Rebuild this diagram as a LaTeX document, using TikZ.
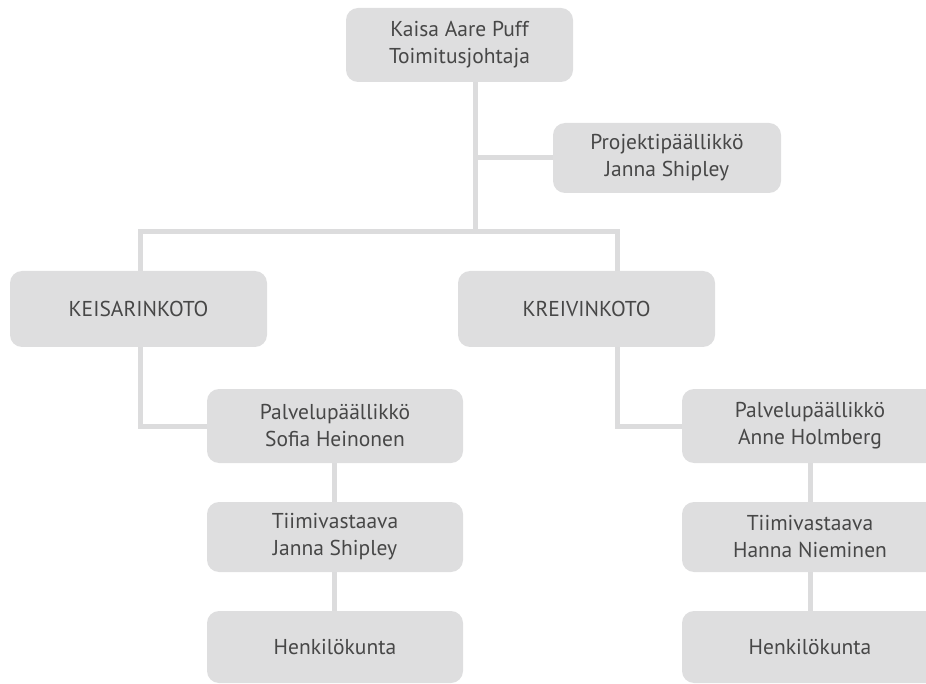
\documentclass[tikz,border=0pt]{standalone}
\usepackage{fontspec}
\setmainfont{PT Sans}
\definecolor{boxfill}{HTML}{DEDEDF}
\definecolor{linecol}{HTML}{DCDCDD}
\definecolor{txt}{HTML}{474747}
\begin{document}
\begin{tikzpicture}[x=1pt,y=-1pt,
  orgbox/.style={fill=boxfill,rounded corners=12pt,inner sep=0pt,align=center,
    text=txt,font=\fontsize{21.5}{27}\selectfont},
  conn/.style={draw=linecol,line width=5pt}]
\useasboundingbox (0,0) rectangle (926,684);
\clip (0,0) rectangle (926,684);
\node[orgbox,minimum width=227pt,minimum height=74pt] (top) at (459.5,45) {Kaisa Aare Puff\\Toimitusjohtaja};
\node[orgbox,minimum width=228pt,minimum height=70pt] (proj) at (667,158) {Projektipäällikkö\\Janna Shipley};
\node[orgbox,minimum width=257pt,minimum height=76pt] (keis) at (138.5,309) {KEISARINKOTO};
\node[orgbox,minimum width=257pt,minimum height=76pt] (kreiv) at (586.5,309) {KREIVINKOTO};
\node[orgbox,minimum width=256pt,minimum height=74pt] (palvS) at (335,426) {Palvelupäällikkö\\Sofia Heinonen};
\node[orgbox,minimum width=256pt,minimum height=70pt] (tiimS) at (335,537) {Tiimivastaava\\Janna Shipley};
\node[orgbox,minimum width=256pt,minimum height=72pt] (henkS) at (335,647) {Henkilökunta};
\node[orgbox,minimum width=256pt,minimum height=74pt] (palvK) at (810,426) {Palvelupäällikkö\\Anne Holmberg};
\node[orgbox,minimum width=256pt,minimum height=70pt] (tiimK) at (810,537) {Tiimivastaava\\Hanna Nieminen};
\node[orgbox,minimum width=256pt,minimum height=72pt] (henkK) at (810,647) {Henkilökunta};
\coordinate (spine) at (475,232);
\coordinate (L) at (140,232);
\coordinate (R) at (617,232);
\coordinate (cs) at (334,0);
\draw[conn] (top.south -| spine) -- (spine);
\draw[conn] (proj.west) -- (proj.west -| spine);
\draw[conn] (L |- keis.north) -- (L) -- (R) -- (R |- kreiv.north);
\draw[conn] (L |- keis.south) |- (palvS.west);
\draw[conn] (R |- kreiv.south) |- (palvK.west);
\draw[conn] (palvS.south -| cs) -- (tiimS.north -| cs);
\draw[conn] (tiimS.south -| cs) -- (henkS.north -| cs);
\draw[conn] (palvK.south) -- (tiimK.north);
\draw[conn] (tiimK.south) -- (henkK.north);
\end{tikzpicture}
\end{document}
